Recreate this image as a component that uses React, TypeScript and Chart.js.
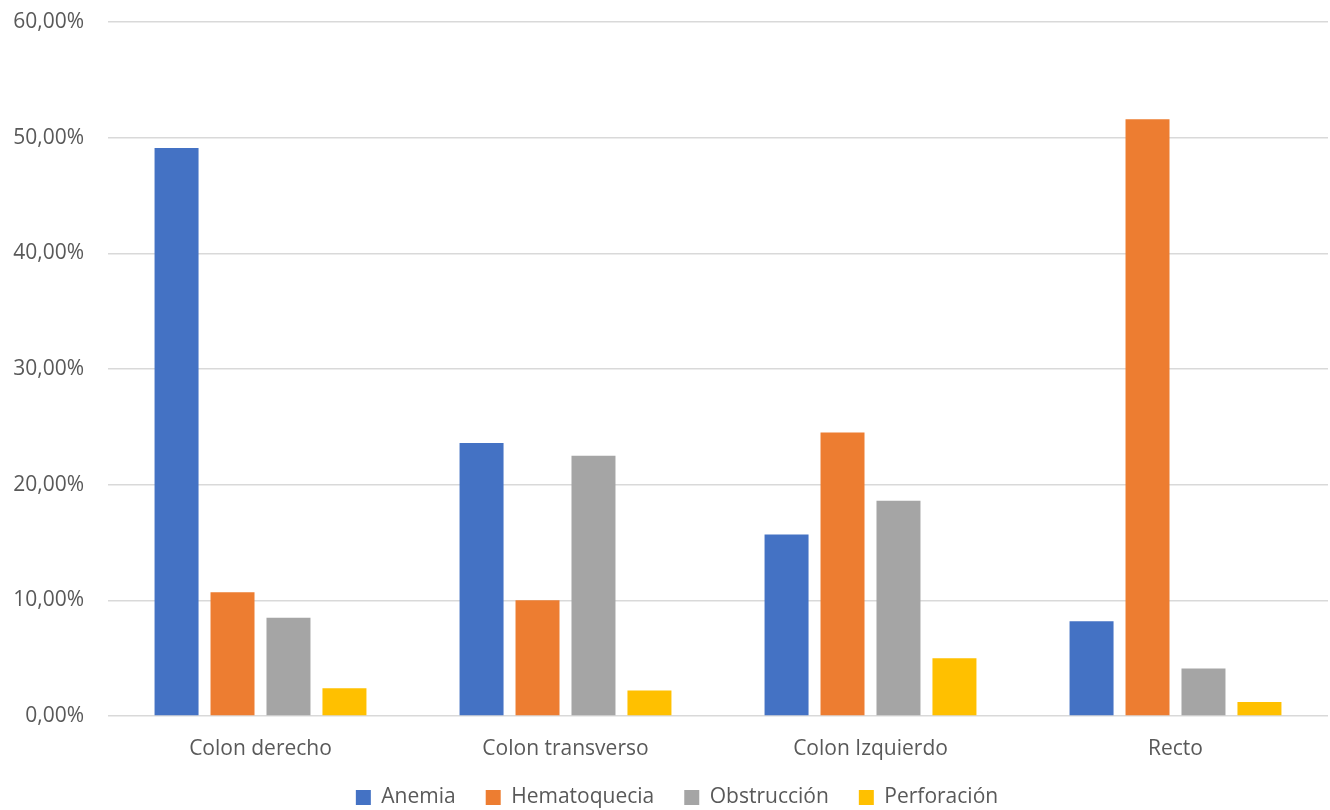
import React, { useEffect, useRef } from "react";
import { Chart, registerables } from "chart.js";

Chart.register(...registerables);

const categories = ["Colon derecho", "Colon transverso", "Colon Izquierdo", "Recto"];
const seriesNames = ["Anemia", "Hematoquecia", "Obstrucción", "Perforación"];
const anemia = [49.1, 23.6, 15.7, 8.2];
const hematoquecia = [10.7, 10.0, 24.5, 51.6];
const obstruccion = [8.5, 22.5, 18.6, 4.1];
const perforacion = [2.4, 2.2, 5.0, 1.2];
const colors = ["#4472C4", "#ED7D31", "#A5A5A5", "#FFC000"];
const yTicks = [0, 10, 20, 30, 40, 50, 60];

const FONT = "'Open Sans', 'DejaVu Sans', sans-serif";

export default function App() {
  const ref = useRef<HTMLCanvasElement | null>(null);
  useEffect(() => {
    document.body.style.margin = "0";
    const ctx = ref.current!;
    const values = [anemia, hematoquecia, obstruccion, perforacion];
    const unclipLabels = {
      id: "unclipLabels",
      afterLayout: (c: any) => {
        if (c.scales.x) c.scales.x.bottom += 30;
        if (c.scales.y) c.scales.y.left = 0;
      },
    };
    const chart = new Chart(ctx, {
      type: "bar",
      data: {
        labels: categories,
        datasets: seriesNames.map((n, i) => ({
          label: n,
          data: values[i],
          backgroundColor: colors[i],
          borderWidth: 0,
          categoryPercentage: 0.734,
          barPercentage: 0.786,
        })),
      },
      plugins: [unclipLabels],
      options: {
        responsive: false,
        animation: false,
        maintainAspectRatio: false,
        layout: { padding: { top: 22, right: 2, bottom: -8, left: 26 } },
        plugins: {
          tooltip: { enabled: false },
          legend: {
            position: "bottom",
            labels: {
              boxWidth: 15,
              boxHeight: 15,
              padding: 30,
              color: "#595959",
              font: { family: FONT, size: 21 },
            },
          },
        },
        scales: {
          x: {
            grid: { display: false },
            border: { display: false },
            ticks: { color: "#595959", font: { family: FONT, size: 21 }, padding: 12 },
            afterFit: (s: any) => { s.height = 41; s.paddingLeft = 0; s.paddingRight = 0; },
          },
          y: {
            min: 0,
            max: 60,
            afterBuildTicks: (s: any) => { s.ticks = yTicks.map((v) => ({ value: v })); },
            grid: { color: "#D9D9D9", lineWidth: 1.5, drawTicks: false },
            border: { display: false },
            ticks: {
              color: "#595959",
              font: { family: FONT, size: 21 },
              padding: 24,
              callback: (v: any) => Number(v).toFixed(2).replace(".", ",") + "%",
            },
            afterFit: (s: any) => { s.width = 82; s.paddingTop = 0; s.paddingBottom = 0; },
          },
        },
      },
    });
    return () => chart.destroy();
  }, []);
  return <canvas ref={ref} width={1330} height={810} style={{ display: "block", background: "#fff" }} />;
}
